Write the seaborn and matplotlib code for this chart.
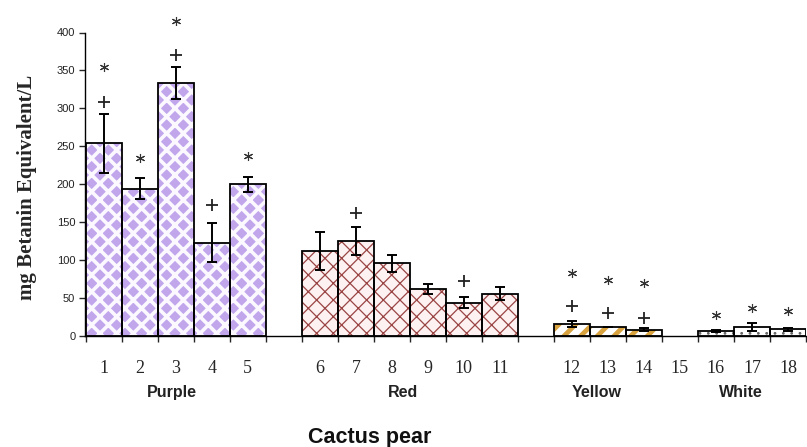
import numpy as np
import pandas as pd
import matplotlib.pyplot as plt
import seaborn as sns
from matplotlib.patches import Rectangle
from matplotlib.transforms import blended_transform_factory

# values
samples = ['1', '2', '3', '4', '5', '6', '7', '8', '9', '10', '11',
           '12', '13', '14', '16', '17', '18']
groups = ['Purple'] * 5 + ['Red'] * 6 + ['Yellow'] * 3 + ['White'] * 3
betanin = [254, 194, 333, 123, 200, 112, 125, 96, 62, 44, 56,
           16, 12, 8, 7, 12, 9]
sd = [39, 14, 21, 26, 10, 25, 18, 11, 7, 7, 9,
      4, 0.5, 2, 1.5, 5, 2]
star_y = {'1': 354, '2': 235, '3': 415, '5': 237, '12': 83, '13': 74,
          '14': 70, '16': 28, '17': 37, '18': 33}
plus_y = {'1': 309, '3': 370, '4': 172, '7': 162, '10': 72, '12': 39,
          '13': 30, '14': 24}

# category slots, blanks are the gaps between colour groups
slot_order = ['1', '2', '3', '4', '5', '', '6', '7', '8', '9', '10', '11', ' ',
              '12', '13', '14', '15', '16', '17', '18']
group_names = ['Purple', 'Red', 'Yellow', 'White']

df = pd.DataFrame({'sample': samples, 'group': groups, 'betanin': betanin, 'sd': sd})

styles = {
    'Purple': dict(face='#c1a6ec', hatch='xx', hcolor='#fbf8ff', hlw=2.6),
    'Red': dict(face='#fdf1f1', hatch='xx', hcolor='#9a4444', hlw=0.9),
    'Yellow': dict(face='white', hatch='//', hcolor='#d8a23e', hlw=3.4),
    'White': dict(face='white', hatch='..', hcolor='#666666', hlw=0.8),
}

sns.set_style("ticks")
serif = ['Liberation Serif', 'DejaVu Serif']
sans = ['Liberation Sans', 'DejaVu Sans']
plt.rcParams['font.family'] = sans

fig = plt.figure(figsize=(8.07, 4.47), dpi=100)
ax = fig.add_axes([85 / 807, 111 / 447, 721 / 807, 303.5 / 447])

sns.barplot(data=df, x='sample', y='betanin', order=slot_order, color='white',
            width=1.0, errorbar=None, linewidth=0, ax=ax)

group_of = dict(zip(samples, groups))
for p in list(ax.patches):
    idx = int(round(p.get_x() + p.get_width() / 2))
    st = styles[group_of[slot_order[idx]]]
    p.set_facecolor(st['face'])
    p.set_edgecolor(st['hcolor'])
    p.set_hatch(st['hatch'])
    p.set_linewidth(0)
    if hasattr(p, 'set_hatch_linewidth'):
        p.set_hatch_linewidth(st['hlw'])
    ax.add_patch(Rectangle(p.get_xy(), p.get_width(), p.get_height(),
                           fill=False, edgecolor='black', linewidth=1.3, zorder=3))

pos = [slot_order.index(s) for s in samples]
ax.errorbar(pos, betanin, yerr=sd, fmt='none', ecolor='black',
            elinewidth=1.4, capsize=3.5, capthick=1.4, zorder=4)

sx = [slot_order.index(s) for s in star_y]
ax.plot(sx, list(star_y.values()), linestyle='none', marker=(6, 2, 0),
        markersize=6.5, markeredgewidth=0.8, color='#333333', clip_on=False, zorder=5)
px = [slot_order.index(s) for s in plus_y]
ax.plot(px, list(plus_y.values()), linestyle='none', marker='+',
        markersize=9, markeredgewidth=1.3, color='#222222', clip_on=False, zorder=5)

ax.set_ylim(0, 400)
ax.set_xlim(-0.52, 19.39)
ax.set_yticks(np.arange(0, 401, 50))
ax.tick_params(axis='y', direction='out', length=4, width=1, labelsize=8,
               labelcolor='#222222', pad=3)
ax.tick_params(axis='x', which='major', length=0, pad=17)
ax.set_xticks(np.arange(-0.5, 20, 1), minor=True)
ax.tick_params(axis='x', which='minor', direction='out', length=4, width=1)
for lab in ax.get_xticklabels():
    lab.set_fontfamily(serif)
    lab.set_fontsize(13)
for sp in ['left', 'bottom']:
    ax.spines[sp].set_linewidth(1.0)
    ax.spines[sp].set_color('black')
sns.despine(ax=ax)

ax.set_xlabel('')
ax.set_ylabel('mg Betanin Equivalent/L', family=serif, fontsize=15, fontweight='bold')
ax.yaxis.set_label_coords(-0.066, 0.49)

trans = blended_transform_factory(ax.transData, ax.transAxes)
label_x = [1.9, 8.3, 13.7, 17.7]
for name, x in zip(group_names, label_x):
    ax.text(x, -0.185, name, transform=trans, ha='center', va='center',
            fontsize=11.5, fontweight='bold', color='#222222')

fig.text(370 / 807, 10 / 447, 'Cactus pear', ha='center', va='center',
         fontsize=15.5, fontweight='bold', color='#111111')

fig.savefig('out.png', dpi=100)
